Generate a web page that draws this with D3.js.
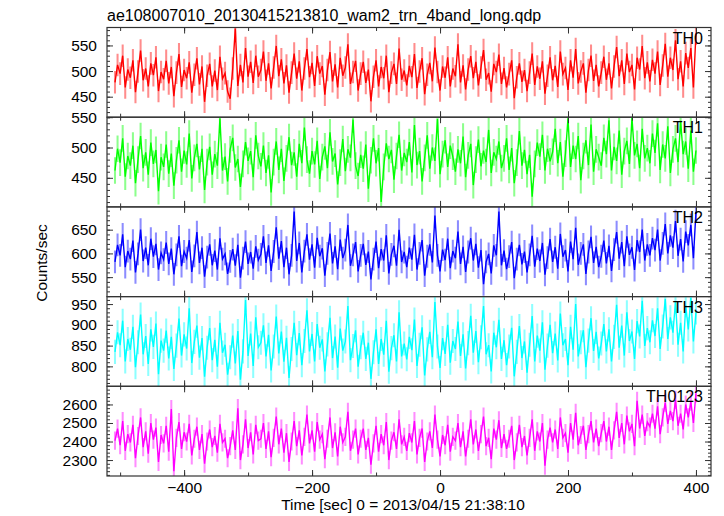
<!DOCTYPE html>
<html><head><meta charset="utf-8">
<script src="https://cdn.jsdelivr.net/npm/d3@7/dist/d3.min.js"></script>
<style>
body{margin:0;background:#fff;}
svg text{font-family:"Liberation Sans",Arial,Helvetica,sans-serif;fill:#000;}
</style></head><body>
<svg id="c" width="724" height="516"></svg>
<script>
// ---- data ----
const title = "ae108007010_20130415213810_wam2_trn_4band_long.qdp";
const xLabel = "Time [sec] 0 = 2013/04/15 21:38:10";
const yLabel = "Counts/sec";
const seriesNames = ["TH0","TH1","TH2","TH3","TH0123"];
const seriesColors = ["#ff0000","#00ff00","#0000ff","#00ffff","#ff00ff"];
const tStart = -508, binSize = 4;   // time bins (sec)
const xTicks = [-400,-200,0,200,400];
const yTicks = [[450,500,550],[450,500,550],[550,600,650],[800,850,900,950],[2300,2400,2500,2600]];
const yMinorStep = [10,10,10,10,20];
const yDomains = [[410,585],[402,550],[509,698],[752,968],[2214,2698]];
const errors = [22,22,24,29,49];

const th0 = [
478,512,495,530,468,503,487,521,459,499,540,482,505,470,515,492,527,461,498,
484,520,476,508,451,497,533,469,502,486,517,458,493,525,474,509,440,491,514,
470,501,463,528,485,496,460,446,505,583,471,512,478,545,489,518,477,530,489,
502,538,481,515,466,507,549,490,523,476,511,458,497,534,485,519,462,505,543,
488,516,471,529,495,510,454,502,537,480,513,468,526,491,507,552,475,498,520,
462,495,518,477,503,441,489,521,470,508,486,530,459,497,514,475,544,483,501,
472,510,488,533,467,499,525,455,493,516,480,546,498,462,509,487,527,470,505,
490,552,478,511,464,503,529,486,518,472,507,541,483,496,460,514,498,532,475,
506,468,494,521,447,488,515,479,502,461,497,534,473,509,485,519,456,491,527,
482,510,469,538,494,506,463,521,487,543,476,499,515,458,502,530,481,512,470,
497,528,483,515,466,509,547,490,521,475,534,498,512,464,526,503,549,486,517,
480,522,495,538,473,511,553,489,526,502,560,484,519,470,535,506,545,468,573];
const th1 = [
462,498,475,515,452,486,470,503,441,480,519,466,492,455,508,473,496,428,484,
468,505,457,490,437,479,512,460,495,472,523,449,483,506,464,498,430,476,501,
455,489,470,548,462,485,444,497,516,467,481,435,473,509,478,494,451,520,486,
469,503,458,487,426,476,510,463,498,445,482,517,471,492,452,506,474,533,480,
457,494,472,511,448,484,502,466,525,477,490,439,475,514,461,497,483,546,470,
453,488,465,505,432,479,515,474,499,410,468,507,481,496,447,486,521,462,491,
476,509,459,537,471,494,444,483,520,465,500,478,547,456,489,512,468,503,485,
460,497,474,518,451,487,506,438,480,513,469,495,476,529,458,492,481,510,466,
482,515,463,499,441,475,527,470,496,456,488,419,473,508,485,521,462,498,477,
493,531,474,509,452,490,548,468,503,481,519,446,486,512,471,538,460,497,484,
470,516,489,545,462,501,478,528,455,494,511,473,549,487,506,466,531,482,499,
474,523,491,540,463,505,482,535,458,497,515,476,544,489,510,465,528,460,495];
const th2 = [
582,618,596,640,571,605,588,627,560,599,650,584,612,575,631,593,620,566,601,
587,623,578,610,556,597,636,573,604,590,628,561,595,645,580,612,551,592,619,
575,606,566,632,588,599,557,583,609,574,618,549,590,625,578,603,568,615,586,
598,636,580,617,563,604,655,589,626,571,612,556,596,688,584,622,560,605,640,
587,619,570,633,594,611,553,600,642,579,615,567,629,590,607,660,574,597,624,
562,596,620,576,604,545,588,625,569,609,585,638,558,598,616,574,650,582,603,
571,612,587,639,566,600,628,553,594,619,581,680,596,562,608,586,631,569,605,
590,646,578,614,561,603,632,585,620,570,607,535,582,599,558,617,596,688,575,
606,567,593,624,548,588,618,577,604,560,597,637,572,610,584,622,555,591,630,
582,613,568,641,593,607,562,625,588,654,576,600,619,557,603,635,580,614,571,
594,627,579,616,563,608,645,589,624,573,636,597,613,565,628,603,650,585,619,
596,632,607,650,585,621,662,600,638,612,668,595,630,583,646,617,660,590,688];
const th3 = [
835,882,851,910,812,866,840,895,798,858,925,829,873,806,889,847,903,781,862,
838,886,819,871,794,850,915,826,877,843,940,808,859,898,821,868,775,845,892,
815,864,799,905,833,852,780,822,874,807,885,768,836,960,825,879,801,918,846,
857,899,824,876,790,848,920,831,884,811,869,772,842,905,827,880,803,861,935,
836,878,812,902,845,865,788,853,917,820,872,797,891,838,860,945,815,849,887,
799,846,881,818,857,770,834,889,806,866,828,910,787,844,875,812,930,824,855,
817,871,839,913,801,852,894,778,841,883,822,955,848,796,868,830,900,809,861,
842,908,825,877,795,856,922,833,885,810,870,945,829,851,788,881,846,912,818,
863,803,848,893,776,835,897,820,860,785,852,921,812,874,838,906,792,850,900,
832,879,814,927,851,866,803,895,840,950,824,858,887,798,862,916,837,883,819,
855,902,836,889,812,871,948,845,898,826,930,861,884,818,909,872,958,849,892,
858,911,873,940,842,896,962,866,918,881,955,852,905,836,947,889,965,860,930];
const th0123 = [
2405,2470,2380,2510,2350,2440,2395,2490,2310,2430,2530,2370,2455,2335,2500,2410,2475,2290,2435,
2390,2485,2345,2575,2240,2420,2505,2360,2450,2400,2495,2325,2415,2480,2355,2440,2280,2400,2465,
2370,2430,2340,2495,2395,2415,2310,2375,2460,2355,2580,2300,2385,2520,2365,2450,2330,2490,2405,
2415,2500,2360,2455,2315,2420,2535,2385,2470,2340,2445,2290,2400,2510,2375,2460,2325,2425,2545,
2390,2460,2345,2505,2410,2440,2305,2415,2530,2365,2450,2320,2480,2395,2425,2560,2350,2410,2470,
2330,2415,2470,2355,2420,2275,2390,2485,2345,2440,2380,2505,2300,2405,2450,2360,2520,2385,2425,
2350,2445,2395,2510,2330,2420,2470,2290,2400,2455,2365,2545,2410,2320,2435,2380,2490,2345,2425,
2405,2500,2370,2455,2320,2415,2520,2385,2465,2350,2440,2535,2375,2420,2305,2470,2410,2515,2365,
2440,2360,2415,2485,2300,2395,2490,2370,2430,2325,2420,2520,2350,2455,2400,2500,2270,2410,2475,
2395,2465,2360,2530,2420,2445,2340,2500,2410,2555,2380,2435,2485,2355,2440,2510,2395,2470,2375,
2445,2510,2400,2480,2355,2460,2560,2420,2500,2385,2540,2455,2495,2375,2620,2470,2545,2430,2505,
2480,2550,2470,2590,2440,2530,2610,2495,2565,2510,2625,2485,2550,2465,2600,2530,2615,2500,2660];
const allSeries = [th0, th1, th2, th3, th0123];

// ---- layout ----
const W = 724, H = 516;
const left = 107, right = 711, top0 = 27.5, bottom = 476;
const nP = allSeries.length;
const pH = (bottom - top0) / nP;
const svg = d3.select("#c");
const x = d3.scaleLinear().domain([-520.5, 423.5]).range([left, right]);
const fs = 15.5;

svg.append("text").attr("x", left).attr("y", 20.5).attr("font-size", 16).text(title);

allSeries.forEach((vals, p) => {
  const y0 = top0 + p * pH, y1 = y0 + pH;
  const y = d3.scaleLinear().domain(yDomains[p]).range([y1, y0]);
  const g = svg.append("g");
  const clipId = "clip" + p;
  svg.append("clipPath").attr("id", clipId).append("rect")
    .attr("x", left).attr("y", y0).attr("width", right - left).attr("height", pH);
  const dg = g.append("g").attr("clip-path", `url(#${clipId})`);
  const pts = vals.map((v, i) => ({t: tStart + i * binSize, v}));
  const e = errors[p];
  const bw = x(binSize) - x(0);
  // error bars (lighter shade, one bin wide)
  dg.append("g").selectAll("line").data(pts).join("line")
    .attr("x1", d => x(d.t)).attr("x2", d => x(d.t))
    .attr("y1", d => y(d.v - e)).attr("y2", d => y(d.v + e))
    .attr("stroke", seriesColors[p]).attr("stroke-opacity", 0.45).attr("stroke-width", bw * 0.8);
  dg.append("path").datum(pts)
    .attr("d", d3.line().x(d => x(d.t)).y(d => y(d.v)))
    .attr("fill", "none").attr("stroke", seriesColors[p]).attr("stroke-width", 1.4);

  // axes
  const minorY = d3.range(Math.ceil(yDomains[p][0] / yMinorStep[p]) * yMinorStep[p], yDomains[p][1] + 0.001, yMinorStep[p]);
  const minorX = d3.range(-500, 401, 100);
  const axStyle = sel => { sel.select(".domain").remove(); sel.selectAll("line").attr("stroke", "#333"); sel.selectAll("text").attr("font-size", fs).attr("font-family", '"Liberation Sans",Arial,sans-serif'); };
  g.append("g").attr("transform", `translate(${left},0)`)
    .call(d3.axisLeft(y).tickValues(minorY).tickSize(-3).tickFormat("")).call(axStyle);
  g.append("g").attr("transform", `translate(${left},0)`)
    .call(d3.axisLeft(y).tickValues(yTicks[p]).tickSize(-6).tickPadding(10).tickFormat(d3.format("d"))).call(axStyle);
  g.append("g").attr("transform", `translate(${right},0)`)
    .call(d3.axisRight(y).tickValues(minorY).tickSize(-3).tickFormat("")).call(axStyle);
  g.append("g").attr("transform", `translate(${right},0)`)
    .call(d3.axisRight(y).tickValues(yTicks[p]).tickSize(-6).tickFormat("")).call(axStyle);
  [[d3.axisTop, y0], [d3.axisBottom, y1]].forEach(([ax, yy], k) => {
    g.append("g").attr("transform", `translate(0,${yy})`)
      .call(ax(x).tickValues(minorX).tickSize(-3.5).tickFormat("")).call(axStyle);
    const last = (k === 1 && p === nP - 1);
    g.append("g").attr("transform", `translate(0,${yy})`)
      .call(ax(x).tickValues(xTicks).tickSize(-6).tickPadding(6)
        .tickFormat(last ? (d => d < 0 ? "\u2212" + Math.abs(d) : String(d)) : "")).call(axStyle);
  });
  g.append("rect").attr("x", left).attr("y", y0).attr("width", right - left).attr("height", pH)
    .attr("fill", "none").attr("stroke", "#333").attr("stroke-width", 1.2);
  g.append("text").attr("x", 703).attr("y", y0 + 16).attr("text-anchor", "end")
    .attr("font-size", 16).text(seriesNames[p]);
});

svg.append("text").attr("x", (left + right) / 2 - 6).attr("y", 510).attr("text-anchor", "middle")
  .attr("font-size", fs).text(xLabel);
svg.append("text").attr("transform", "translate(47,263) rotate(-90)").attr("text-anchor", "middle")
  .attr("font-size", fs).text(yLabel);
</script></body></html>
